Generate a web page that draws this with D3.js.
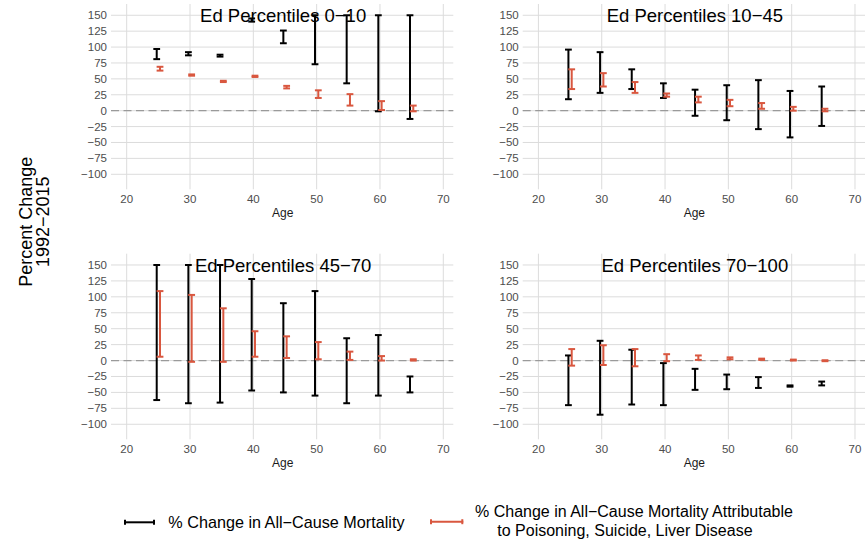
<!DOCTYPE html>
<html>
<head>
<meta charset="utf-8">
<script src="https://cdn.jsdelivr.net/npm/d3@7"></script>
<style>
  html, body { margin: 0; padding: 0; background: #fff; }
  svg { display: block; font-family: "Liberation Sans", Arial, Helvetica, sans-serif; }
</style>
</head>
<body>
<svg id="chart" width="865" height="542"></svg>
<script>
// ---------------- DATA ----------------
const ages = [25, 30, 35, 40, 45, 50, 55, 60, 65];
const xTicks = [20, 30, 40, 50, 60, 70];
const yTicks = [-100, -75, -50, -25, 0, 25, 50, 75, 100, 125, 150];
const panelTitles = ["Ed Percentiles 0\u221210", "Ed Percentiles 10\u221245", "Ed Percentiles 45\u221270", "Ed Percentiles 70\u2212100"];
const seriesNames = ["% Change in All\u2212Cause Mortality",
                     "% Change in All\u2212Cause Mortality Attributable",
                     "to Poisoning, Suicide, Liver Disease"];

// Ed percentiles 0-10
const p1AllLo  = [81, 87, 85, 140, 106, 73, 43, -1, -13];
const p1AllHi  = [97, 92, 88, 145, 126, 150, 150, 150, 150];
const p1DespLo = [63, 55, 45, 53, 35, 20, 8, 1, -1];
const p1DespHi = [69, 57, 47, 55, 39, 32, 26, 15, 8];
// Ed percentiles 10-45
const p2AllLo  = [18, 28, 34, 20, -8, -15, -29, -42, -24];
const p2AllHi  = [96, 92, 65, 43, 33, 40, 48, 31, 38];
const p2DespLo = [34, 38, 28, 22, 13, 7, 3, 0, -1];
const p2DespHi = [65, 59, 45, 27, 22, 17, 12, 6, 3];
// Ed percentiles 45-70
const p3AllLo  = [-62, -67, -66, -47, -50, -55, -67, -55, -50];
const p3AllHi  = [150, 150, 150, 128, 90, 109, 35, 40, -25];
const p3DespLo = [6, -2, -2, 6, 4, 2, 1, 0, 0];
const p3DespHi = [109, 103, 82, 46, 38, 29, 14, 7, 2];
// Ed percentiles 70-100
const p4AllLo  = [-70, -85, -69, -70, -46, -45, -43, -41, -39];
const p4AllHi  = [8, 31, 17, -4, -13, -22, -26, -39, -33];
const p4DespLo = [-8, -7, -9, -1, 1, 2, 1, 0, -1];
const p4DespHi = [18, 24, 18, 10, 8, 5, 3, 1.5, 0.5];

// ---------------- LAYOUT ----------------
const svg = d3.select("#chart");
const BLACK = "#000000", RED = "#d9573f";
const panels = [
  { x0: 111,   x1: 453.3, y0: 4,     y1: 189.3, allLo: p1AllLo, allHi: p1AllHi, dLo: p1DespLo, dHi: p1DespHi },
  { x0: 522.7, x1: 865,   y0: 4,     y1: 189.3, allLo: p2AllLo, allHi: p2AllHi, dLo: p2DespLo, dHi: p2DespHi },
  { x0: 111,   x1: 453.3, y0: 253.7, y1: 439.3, allLo: p3AllLo, allHi: p3AllHi, dLo: p3DespLo, dHi: p3DespHi },
  { x0: 522.7, x1: 865,   y0: 253.7, y1: 439.3, allLo: p4AllLo, allHi: p4AllHi, dLo: p4DespLo, dHi: p4DespHi }
];
const fmt = v => String(v).replace("-", "\u2212");
const capHalf = 3.4;
const dodge = 0.26;

panels.forEach((p, i) => {
  const x = d3.scaleLinear().domain([17.52, 71.58]).range([p.x0, p.x1]);
  const y = d3.scaleLinear().domain([-123.6, 167.7]).range([p.y1, p.y0]);
  const g = svg.append("g");

  // gridlines
  g.selectAll(".hg").data(yTicks).join("line")
    .attr("x1", p.x0).attr("x2", p.x1)
    .attr("y1", d => y(d)).attr("y2", d => y(d))
    .attr("stroke", "#dcdcdc").attr("stroke-width", 1);
  g.selectAll(".vg").data(xTicks).join("line")
    .attr("x1", d => x(d)).attr("x2", d => x(d))
    .attr("y1", p.y0).attr("y2", p.y1)
    .attr("stroke", "#dcdcdc").attr("stroke-width", 1);

  // y tick labels
  g.selectAll(".yl").data(yTicks).join("text")
    .attr("x", p.x0 - 4).attr("y", d => y(d) + 4)
    .attr("text-anchor", "end").attr("font-size", 11.5).attr("fill", "#4d4d4d")
    .text(fmt);
  // x tick labels
  g.selectAll(".xl").data(xTicks).join("text")
    .attr("x", d => x(d)).attr("y", p.y1 + 14)
    .attr("text-anchor", "middle").attr("font-size", 11.5).attr("fill", "#4d4d4d")
    .text(fmt);
  // x axis title
  g.append("text")
    .attr("x", (p.x0 + p.x1) / 2 + 0.5).attr("y", p.y1 + 27.5)
    .attr("text-anchor", "middle").attr("font-size", 12).attr("fill", "#1a1a1a")
    .text("Age");

  // zero dashed line
  g.append("line")
    .attr("x1", p.x0).attr("x2", p.x1).attr("y1", y(0)).attr("y2", y(0))
    .attr("stroke", "#9a9a9a").attr("stroke-width", 1.2).attr("stroke-dasharray", "8,4.5");

  // error bars
  function bars(lo, hi, off, color) {
    const data = ages.map((a, k) => ({ a: a + off, lo: lo[k], hi: hi[k] }));
    const eg = g.append("g").attr("stroke", color).attr("stroke-width", 2).attr("fill", "none");
    eg.selectAll(".v").data(data).join("line")
      .attr("x1", d => x(d.a)).attr("x2", d => x(d.a))
      .attr("y1", d => y(d.lo)).attr("y2", d => y(d.hi));
    eg.selectAll(".ct").data(data).join("line")
      .attr("x1", d => x(d.a) - capHalf).attr("x2", d => x(d.a) + capHalf)
      .attr("y1", d => y(d.hi)).attr("y2", d => y(d.hi));
    eg.selectAll(".cb").data(data).join("line")
      .attr("x1", d => x(d.a) - capHalf).attr("x2", d => x(d.a) + capHalf)
      .attr("y1", d => y(d.lo)).attr("y2", d => y(d.lo));
  }
  bars(p.allLo, p.allHi, -dodge, BLACK);
  bars(p.dLo, p.dHi, dodge, RED);

  // panel title
  g.append("text")
    .attr("x", (p.x0 + p.x1) / 2 + 1).attr("y", p.y0 + 17.8)
    .attr("text-anchor", "middle").attr("font-size", 18.5).attr("fill", "#000")
    .text(panelTitles[i]);
});

// y axis title
svg.append("text")
  .attr("transform", "translate(31.7,221.7) rotate(-90)")
  .attr("text-anchor", "middle").attr("font-size", 18).attr("fill", "#000")
  .text("Percent Change");
svg.append("text")
  .attr("transform", "translate(49.3,221.7) rotate(-90)")
  .attr("text-anchor", "middle").attr("font-size", 18).attr("fill", "#000")
  .text("1992\u22122015");

// legend
function legendKey(x0, x1, yy, color) {
  const lg = svg.append("g").attr("stroke", color).attr("stroke-width", 2);
  lg.append("line").attr("x1", x0).attr("x2", x1).attr("y1", yy).attr("y2", yy);
  lg.append("line").attr("x1", x0 + 1).attr("x2", x0 + 1).attr("y1", yy - 2.5).attr("y2", yy + 2.5);
  lg.append("line").attr("x1", x1 - 1).attr("x2", x1 - 1).attr("y1", yy - 2.5).attr("y2", yy + 2.5);
}
legendKey(124, 155, 522.3, BLACK);
svg.append("text").attr("x", 168.3).attr("y", 528).attr("font-size", 16.2).attr("fill", "#000")
  .text(seriesNames[0]);
legendKey(430, 463.3, 521.7, RED);
svg.append("text").attr("x", 475).attr("y", 517.4).attr("font-size", 16).attr("fill", "#000")
  .text(seriesNames[1]);
svg.append("text").attr("x", 497.3).attr("y", 536).attr("font-size", 16).attr("fill", "#000")
  .text(seriesNames[2]);
</script>
</body>
</html>
